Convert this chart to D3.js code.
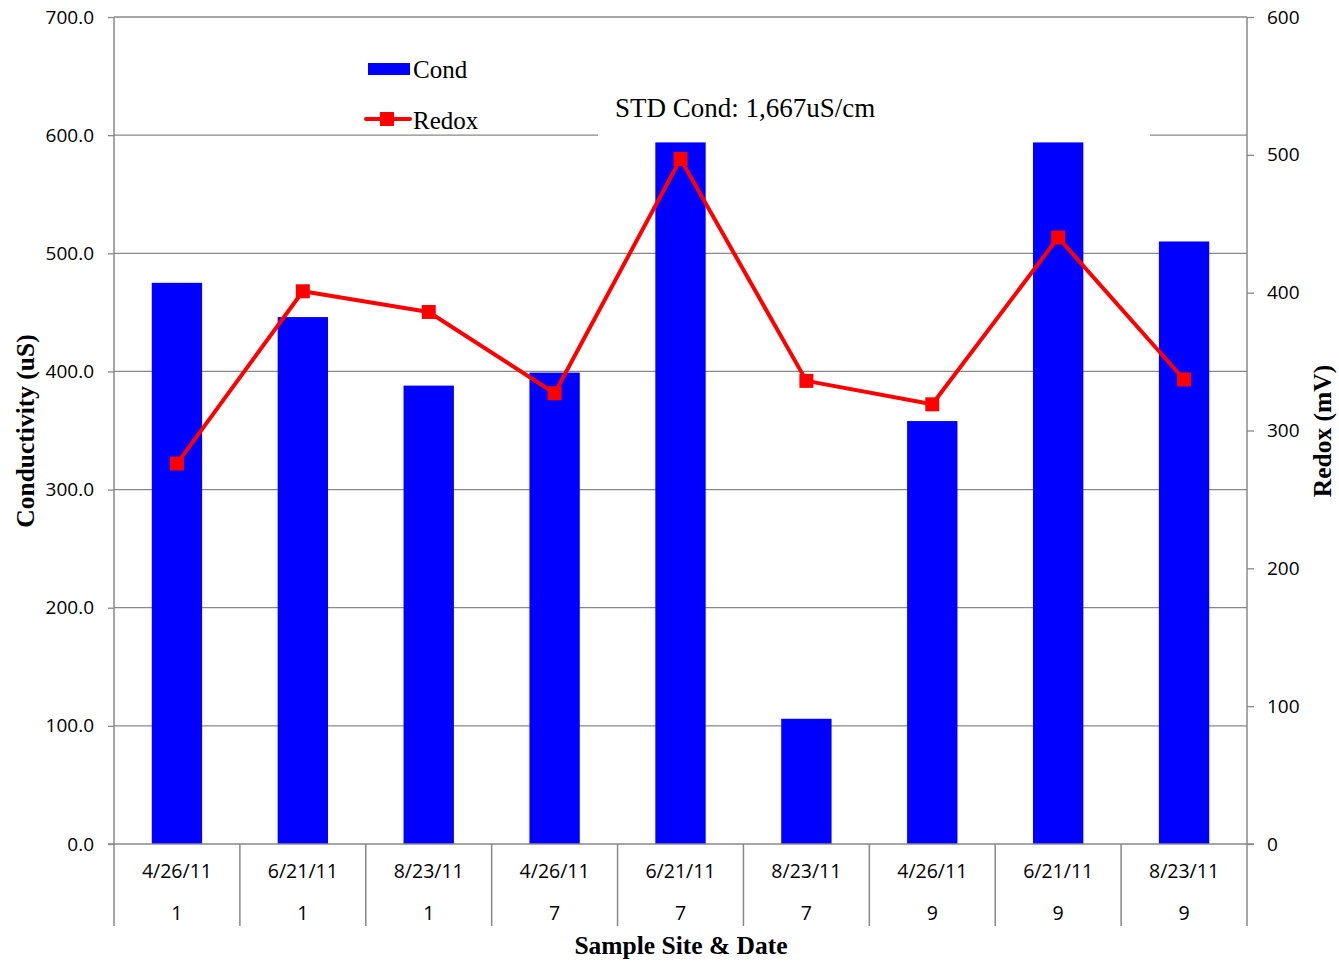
<!DOCTYPE html>
<html><head><meta charset="utf-8">
<script src="https://cdn.jsdelivr.net/npm/d3@7"></script>
<style>body{margin:0;background:#fff}svg{display:block}</style>
</head><body>
<svg id="c" width="1339" height="964"></svg>
<script>
const dates = ["4/26/11","6/21/11","8/23/11","4/26/11","6/21/11","8/23/11","4/26/11","6/21/11","8/23/11"];
const sites = ["1","1","1","7","7","7","9","9","9"];
const cond = [475, 446, 388, 399, 594, 106, 358, 594, 510];
const redox = [276, 401, 386, 327, 497, 336, 319, 440, 337];
const leftTicks = [0,100,200,300,400,500,600,700];
const rightTicks = [0,100,200,300,400,500,600];

const svg = d3.select("#c");
const L = 114, R = 1247, T = 17, B = 844;
const idx = d3.range(dates.length);
const x = d3.scaleBand().domain(idx).range([L, R]).paddingInner(0.6).paddingOuter(0.3);
const xc = d3.scaleBand().domain(idx).range([L, R]);
const yL = d3.scaleLinear().domain([0,700]).range([B, T]);
const yR = d3.scaleLinear().domain([0,600]).range([B, T]);
const grey = "#888";
const sans = "'Open Sans', sans-serif";
const serif = "'Liberation Serif', 'Times New Roman', serif";

// gridlines
svg.append("g").selectAll("line").data(leftTicks.filter(d=>d>0)).join("line")
  .attr("x1", L).attr("x2", R).attr("y1", d=>yL(d)).attr("y2", d=>yL(d))
  .attr("stroke", grey).attr("stroke-width", 1.3);

// bars
svg.append("g").selectAll("rect").data(idx).join("rect")
  .attr("x", i=>x(i)).attr("width", x.bandwidth())
  .attr("y", i=>yL(cond[i])).attr("height", i=>B - yL(cond[i]))
  .attr("fill", "#0000ff");

// STD text box (white background hides grid & bar tops)
svg.append("rect").attr("x", 598).attr("y", 88).attr("width", 552).attr("height", yL(594)-88).attr("fill", "#fff");
svg.append("text").attr("x", 615).attr("y", 117).attr("font-family", serif).attr("font-size", 27)
  .text("STD Cond: 1,667uS/cm");

// left axis
const gl = svg.append("g").attr("transform", `translate(${L},0)`)
  .call(d3.axisLeft(yL).tickValues(leftTicks).tickFormat(d3.format(".1f")).tickSize(6).tickPadding(14));
gl.select(".domain").remove();
gl.selectAll("line").attr("stroke", grey).attr("stroke-width", 1.3);
gl.selectAll("text").attr("font-family", sans).attr("font-size", 19).attr("fill", "#000");
svg.append("line").attr("x1", L).attr("x2", L).attr("y1", T).attr("y2", 926).attr("stroke", grey).attr("stroke-width", 1.5);

// right axis
const gr = svg.append("g").attr("transform", `translate(${R},0)`)
  .call(d3.axisRight(yR).tickValues(rightTicks).tickSize(7).tickPadding(13));
gr.select(".domain").remove();
gr.selectAll("line").attr("stroke", grey).attr("stroke-width", 1.3);
gr.selectAll("text").attr("font-family", sans).attr("font-size", 19).attr("fill", "#000");
svg.append("line").attr("x1", R).attr("x2", R).attr("y1", T).attr("y2", 926).attr("stroke", grey).attr("stroke-width", 1.5);

// baseline and category separators
svg.append("line").attr("x1", L-6).attr("x2", R+7).attr("y1", B).attr("y2", B).attr("stroke", grey).attr("stroke-width", 1.5);
svg.append("g").selectAll("line").data(idx.slice(1)).join("line")
  .attr("x1", i=>xc(i)).attr("x2", i=>xc(i)).attr("y1", B).attr("y2", 926)
  .attr("stroke", grey).attr("stroke-width", 1.5);

// category labels
svg.append("g").selectAll("text").data(idx).join("text")
  .attr("x", i=>xc(i)+xc.bandwidth()/2).attr("y", 878).attr("text-anchor","middle")
  .attr("font-family", sans).attr("font-size", 19.5).text(i=>dates[i]);
svg.append("g").selectAll("text").data(idx).join("text")
  .attr("x", i=>xc(i)+xc.bandwidth()/2).attr("y", 920).attr("text-anchor","middle")
  .attr("font-family", sans).attr("font-size", 19.5).text(i=>sites[i]);

// redox line
const line = d3.line().x(i=>xc(i)+xc.bandwidth()/2).y(i=>yR(redox[i]));
svg.append("path").datum(idx).attr("d", line).attr("fill","none").attr("stroke","#ff0000").attr("stroke-width",4).attr("stroke-linejoin","round");
svg.append("g").selectAll("rect").data(idx).join("rect")
  .attr("x", i=>xc(i)+xc.bandwidth()/2-7).attr("y", i=>yR(redox[i])-7)
  .attr("width", 14).attr("height", 14).attr("fill", "#ff0000");

// legend
svg.append("rect").attr("x", 368).attr("y", 63).attr("width", 42).attr("height", 12).attr("fill", "#0000ff");
svg.append("text").attr("x", 413).attr("y", 78).attr("font-family", serif).attr("font-size", 25).text("Cond");
svg.append("line").attr("x1", 366).attr("x2", 410).attr("y1", 119).attr("y2", 119).attr("stroke", "#ff0000").attr("stroke-width", 4).attr("stroke-linecap","round");
svg.append("rect").attr("x", 380).attr("y", 112).attr("width", 14).attr("height", 14).attr("fill", "#ff0000");
svg.append("text").attr("x", 413).attr("y", 129).attr("font-family", serif).attr("font-size", 25).text("Redox");

// axis titles
svg.append("text").attr("transform", "translate(34,431) rotate(-90)").attr("text-anchor","middle")
  .attr("font-family", serif).attr("font-weight","bold").attr("font-size", 25.5).text("Conductivity (uS)");
svg.append("text").attr("transform", "translate(1331,431) rotate(-90)").attr("text-anchor","middle")
  .attr("font-family", serif).attr("font-weight","bold").attr("font-size", 25.5).text("Redox (mV)");
svg.append("text").attr("x", 681).attr("y", 954).attr("text-anchor","middle")
  .attr("font-family", serif).attr("font-weight","bold").attr("font-size", 25.5).text("Sample Site & Date");
</script>
</body></html>
